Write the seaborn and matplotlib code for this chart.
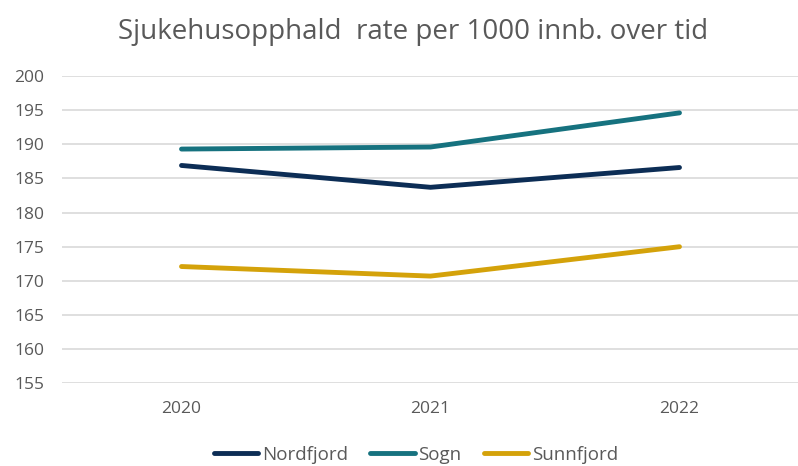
import pandas as pd
import seaborn as sns
import matplotlib.pyplot as plt

years = ["2020", "2021", "2022"]
nordfjord = [186.9, 183.7, 186.6]
sogn = [189.3, 189.6, 194.6]
sunnfjord = [172.1, 170.7, 175.0]

regions = ["Nordfjord", "Sogn", "Sunnfjord"]
colors = ["#0C2D55", "#16727F", "#D4A20A"]

df = pd.DataFrame({"År": years * 3,
                   "Region": [r for r in regions for _ in years],
                   "Rate": nordfjord + sogn + sunnfjord})

sns.set_style("white")
plt.rcParams['font.family'] = ['Open Sans', 'DejaVu Sans']

fig = plt.figure(figsize=(7.98, 4.66), dpi=100)
ax = fig.add_axes([62/798, 82.7/466, 736/798, 307.3/466])

sns.lineplot(data=df, x="År", y="Rate", hue="Region", palette=colors,
             linewidth=3.5, ax=ax, sort=False, solid_capstyle="round")

ax.set_ylim(155, 200)
ax.set_yticks(range(155, 201, 5))
ax.set_xlim(-0.48, 2.476)
ax.yaxis.grid(True, color="#D9D9D9", linewidth=1.2)
ax.set_axisbelow(True)
for s in ax.spines.values():
    s.set_visible(False)
ax.tick_params(axis="both", length=0, labelsize=12.5, labelcolor="#595959")
ax.tick_params(axis="x", pad=13)
ax.tick_params(axis="y", pad=13)
ax.set_xlabel("")
ax.set_ylabel("")

fig.text(0.517, 0.932, "Sjukehusopphald  rate per 1000 innb. over tid",
         ha="center", va="center", fontsize=20, color="#595959")

ax.legend(loc="center", bbox_to_anchor=(0.5 - 14/736, -0.232), ncol=3,
          frameon=False, fontsize=13.5, handlelength=2.35, handletextpad=0.2,
          columnspacing=1.2, labelcolor="#595959", borderpad=0.2)

fig.savefig("out.png", dpi=100)
